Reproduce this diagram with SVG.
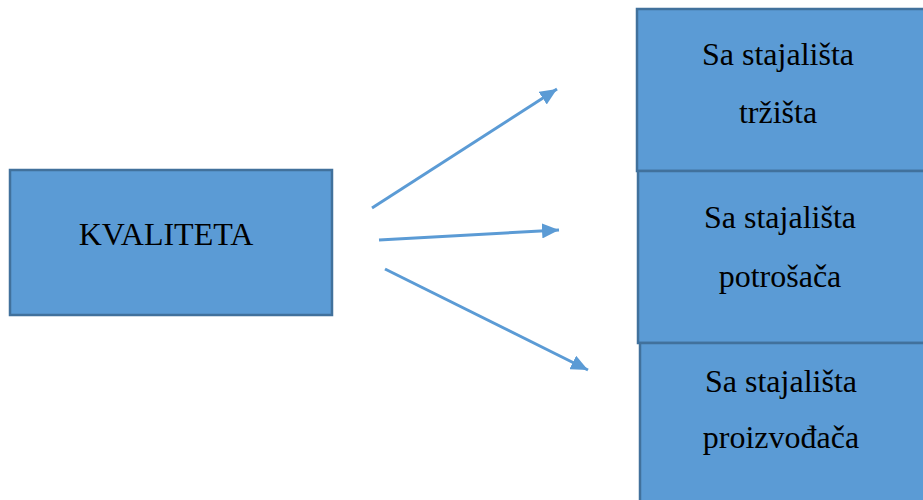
<svg xmlns="http://www.w3.org/2000/svg" width="923" height="500" viewBox="0 0 923 500">
<defs>
<style>
.box{fill:#5B9BD5;stroke:#41719C;stroke-width:2.5}
.lbl{font-family:"Liberation Serif","Times New Roman",serif;font-size:32px;fill:#000;text-anchor:middle}
.arr{stroke:#5B9BD5;stroke-width:3;fill:none;marker-end:url(#ah)}
</style>
<marker id="ah" markerUnits="userSpaceOnUse" markerWidth="18" markerHeight="15" refX="17" refY="7.5" orient="auto">
<path d="M0,0 L17,7.5 L0,15 z" fill="#5B9BD5"/>
</marker>
</defs>
<rect width="923" height="500" fill="#fff"/>
<g id="kvaliteta">
<rect class="box" x="10" y="170" width="322" height="145"/>
<text class="lbl" x="166" y="245">KVALITETA</text>
</g>
<g id="trzista">
<rect class="box" x="637" y="9" width="300" height="162"/>
<text class="lbl" x="778" y="65">Sa stajališta</text>
<text class="lbl" x="778" y="123">tržišta</text>
</g>
<g id="potrosaca">
<rect class="box" x="638" y="171" width="300" height="172"/>
<text class="lbl" x="780" y="228">Sa stajališta</text>
<text class="lbl" x="780" y="287">potrošača</text>
</g>
<g id="proizvodjaca">
<rect class="box" x="640" y="343" width="300" height="170"/>
<text class="lbl" x="781" y="392">Sa stajališta</text>
<text class="lbl" x="781" y="448">proizvođača</text>
</g>
<g id="connectors">
<line class="arr" x1="372" y1="208" x2="557" y2="89"/>
<line class="arr" x1="379" y1="240" x2="559" y2="230"/>
<line class="arr" x1="385" y1="269" x2="588" y2="370"/>
</g>
</svg>
